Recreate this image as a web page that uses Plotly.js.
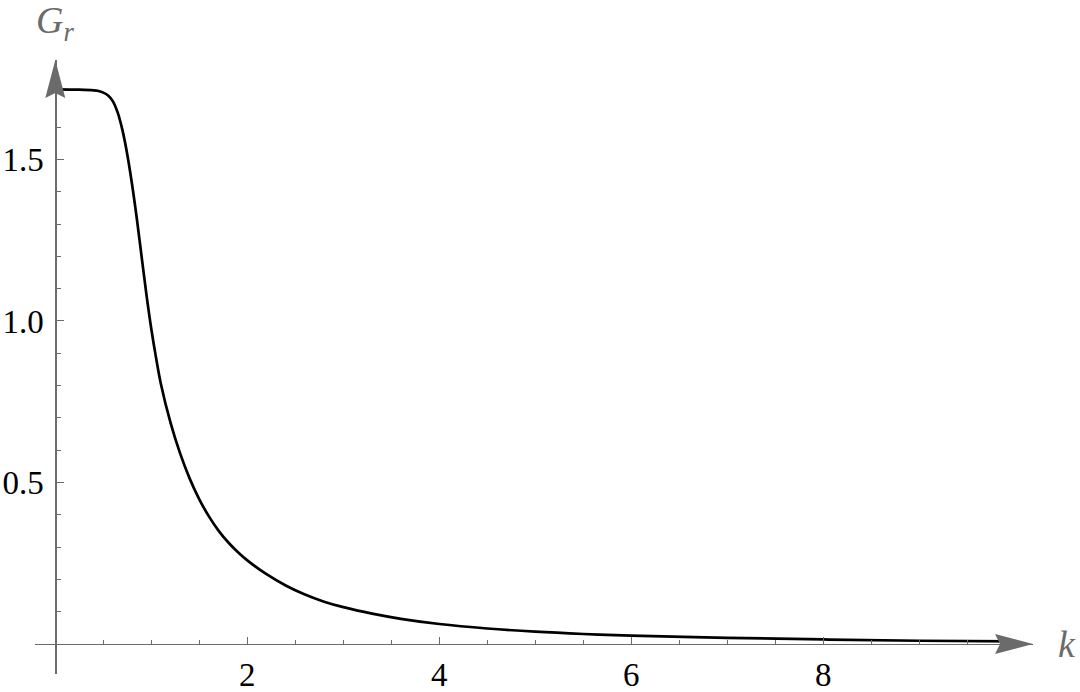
<!DOCTYPE html>
<html>
<head>
<meta charset="utf-8">
<script src="https://cdn.plot.ly/plotly-3.0.1.min.js"></script>
<style>html,body{margin:0;padding:0;background:#fff;}#chart{width:1080px;height:692px;}</style>
</head>
<body>
<div id="chart"></div>
<script>
// Data
const kValues = [0, 0.25, 0.4, 0.45, 0.5, 0.55, 0.6, 0.65, 0.7, 0.75, 0.8, 0.85, 0.9, 0.95, 1.0, 1.05, 1.1, 1.2, 1.3, 1.4, 1.5, 1.6, 1.7, 1.8, 1.9, 2.0, 2.2, 2.4, 2.6, 2.8, 3.0, 3.3, 3.6, 4.0, 4.5, 5.0, 5.5, 6.0, 7.0, 8.0, 9.0, 10.0];
const grValues = [1.717, 1.716, 1.714, 1.712, 1.707, 1.698, 1.680, 1.645, 1.590, 1.515, 1.422, 1.315, 1.197, 1.080, 0.975, 0.885, 0.805, 0.685, 0.590, 0.512, 0.448, 0.395, 0.351, 0.315, 0.285, 0.259, 0.216, 0.181, 0.153, 0.131, 0.114, 0.094, 0.078, 0.062, 0.048, 0.038, 0.031, 0.026, 0.019, 0.014, 0.010, 0.008];
const xMajorTicks = [2, 4, 6, 8];
const xMajorLabels = ["2", "4", "6", "8"];
const xMinorTicks = [0.5, 1, 1.5, 2.5, 3, 3.5, 4.5, 5, 5.5, 6.5, 7, 7.5, 8.5, 9, 9.5];
const yMajorTicks = [0.5, 1.0, 1.5];
const yMajorLabels = ["0.5", "1.0", "1.5"];
const yMinorTicks = [0.1, 0.2, 0.3, 0.4, 0.6, 0.7, 0.8, 0.9, 1.1, 1.2, 1.3, 1.4, 1.6];

const xRange = [-0.2115, 10.184];
const yRange = [-0.0929, 1.808];
const axisGray = '#6b6b6b';
const serif = 'Liberation Serif, Times New Roman, serif';
const tickFont = {family: serif, size: 33, color: '#000'};

const xPos = (0 - yRange[0]) / (yRange[1] - yRange[0]);
const yPos = (0 - xRange[0]) / (xRange[1] - xRange[0]);

const trace = {
  x: kValues, y: grValues, type: 'scatter', mode: 'lines',
  line: {color: '#000', width: 2.7, shape: 'spline', smoothing: 1},
  hoverinfo: 'skip'
};

const layout = {
  width: 1080, height: 692,
  margin: {l: 35, r: 47, t: 60, b: 18},
  paper_bgcolor: '#fff', plot_bgcolor: '#fff',
  showlegend: false,
  xaxis: {
    range: xRange, anchor: 'free', position: xPos,
    showgrid: false, zeroline: false, showline: true, linecolor: axisGray, linewidth: 1.2,
    tickmode: 'array', tickvals: xMajorTicks, ticktext: xMajorLabels,
    ticks: 'inside', ticklen: 7, tickcolor: axisGray, tickwidth: 1,
    tickfont: tickFont, ticklabelstandoff: 1,
    minor: {tickmode: 'array', tickvals: xMinorTicks, ticks: 'inside', ticklen: 4, tickcolor: axisGray, tickwidth: 1}
  },
  yaxis: {
    range: yRange, anchor: 'free', position: yPos,
    showgrid: false, zeroline: false, showline: true, linecolor: axisGray, linewidth: 1.2,
    tickmode: 'array', tickvals: yMajorTicks, ticktext: yMajorLabels,
    ticks: 'inside', ticklen: 7, tickcolor: axisGray, tickwidth: 1,
    tickfont: tickFont, ticklabelstandoff: 5,
    minor: {tickmode: 'array', tickvals: yMinorTicks, ticks: 'inside', ticklen: 4, tickcolor: axisGray, tickwidth: 1}
  },
  shapes: [
    {type: 'path', xref: 'x', yref: 'y', xsizemode: 'pixel', ysizemode: 'pixel',
     xanchor: xRange[1], yanchor: 0,
     path: 'M0,0 L-38,10 L-33,0 L-38,-10 Z', fillcolor: axisGray, line: {width: 0}},
    {type: 'path', xref: 'x', yref: 'y', xsizemode: 'pixel', ysizemode: 'pixel',
     xanchor: 0, yanchor: yRange[1],
     path: 'M0,0 L-10,-38 L0,-33 L10,-38 Z', fillcolor: axisGray, line: {width: 0}}
  ],
  annotations: [
    {xref: 'paper', yref: 'paper', x: (55 - 35) / 998, y: 1 + (60 - 23) / 614,
     xanchor: 'center', yanchor: 'middle', showarrow: false,
     text: '<i>G<sub>r</sub></i>',
     font: {family: serif, size: 38, color: axisGray}},
    {xref: 'paper', yref: 'paper', x: (1067 - 35) / 998, y: xPos,
     xanchor: 'center', yanchor: 'middle', showarrow: false,
     text: '<i>k</i>',
     font: {family: serif, size: 38, color: axisGray}}
  ]
};

Plotly.newPlot('chart', [trace], layout, {displayModeBar: false, staticPlot: true});
</script>
</body>
</html>
